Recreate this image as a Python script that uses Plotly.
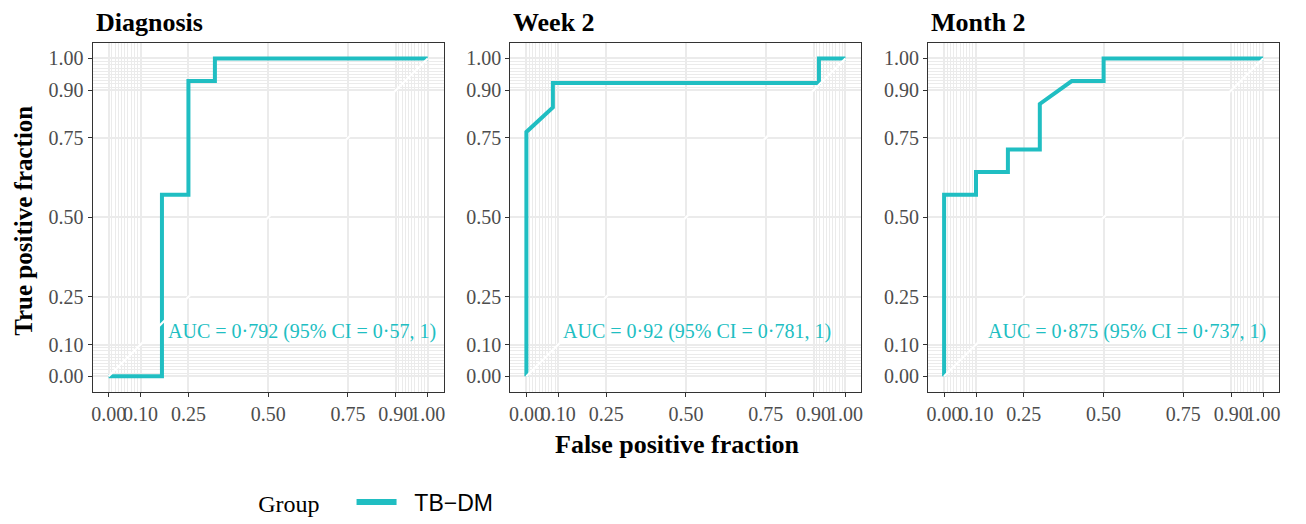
import plotly.graph_objects as go

# ---------------- data ----------------
panels = ["Diagnosis", "Week 2", "Month 2"]

fpr_diagnosis = [0.0, 0.167, 0.167, 0.25, 0.25, 0.333, 0.333, 1.0]
tpr_diagnosis = [0.0, 0.0, 0.571, 0.571, 0.929, 0.929, 1.0, 1.0]

fpr_week2 = [0.0, 0.0, 0.083, 0.083, 0.917, 0.917, 1.0]
tpr_week2 = [0.0, 0.769, 0.846, 0.923, 0.923, 1.0, 1.0]

fpr_month2 = [0.0, 0.0, 0.1, 0.1, 0.2, 0.2, 0.3, 0.3, 0.4, 0.5, 0.5, 1.0]
tpr_month2 = [0.0, 0.571, 0.571, 0.643, 0.643, 0.714, 0.714, 0.857, 0.929, 0.929, 1.0, 1.0]

auc_labels = [
    "AUC = 0·792 (95% CI = 0·57, 1)",
    "AUC = 0·92 (95% CI = 0·781, 1)",
    "AUC = 0·875 (95% CI = 0·737, 1)",
]

legend_title = "Group"
group_name = "TB\u2212DM"
major_ticks = [0, 0.1, 0.25, 0.5, 0.75, 0.9, 1]
major_labels = ["0.00", "0.10", "0.25", "0.50", "0.75", "0.90", "1.00"]
minor_ticks = [0.01, 0.02, 0.03, 0.04, 0.05, 0.06, 0.07, 0.08, 0.09,
               0.91, 0.92, 0.93, 0.94, 0.95, 0.96, 0.97, 0.98, 0.99]
diag_ref = [0, 1]

# ---------------- layout constants ----------------
W, H = 1306, 524
COLOR = "#20BEC2"
SERIF = "Liberation Serif"
SANS = "Liberation Sans"
x_px = [(91, 443), (510, 862), (929, 1281)]
y_px = (43, 396)
auc_pos = [(0.607, 0.14), (0.534, 0.14), (0.573, 0.14)]
NB = "\u00a0"

series = [(fpr_diagnosis, tpr_diagnosis), (fpr_week2, tpr_week2), (fpr_month2, tpr_month2)]

fig = go.Figure()
ydom = [1 - y_px[1] / H, 1 - y_px[0] / H]

for i, (fx, ty) in enumerate(series):
    n = "" if i == 0 else str(i + 1)
    xa, ya = "x" + n, "y" + n
    fig.add_trace(go.Scatter(
        x=fx, y=ty, mode="lines", xaxis=xa, yaxis=ya,
        line=dict(color=COLOR, width=4), name=group_name,
        showlegend=False, hoverinfo="skip"))
    fig.add_trace(go.Scatter(
        x=diag_ref, y=diag_ref, mode="lines", xaxis=xa, yaxis=ya,
        line=dict(color="white", width=2.2), showlegend=False, hoverinfo="skip"))

    axis_common = dict(
        range=[-0.05, 1.05], tickmode="array", tickvals=major_ticks, ticktext=major_labels,
        tickangle=0,
        showgrid=True, gridcolor="#EBEBEB", gridwidth=2, zeroline=False,
        showline=True, linecolor="#333333", linewidth=1.4, mirror=True,
        ticks="outside", ticklen=4, tickwidth=1.3, tickcolor="#333333",
        tickfont=dict(family=SERIF, size=20, color="#4D4D4D"),
        minor=dict(tickvals=minor_ticks, showgrid=True, gridcolor="#EBEBEB", gridwidth=1, ticks=""),
        fixedrange=True,
    )
    fig.layout["xaxis" + n] = dict(axis_common, domain=[x_px[i][0] / W, x_px[i][1] / W],
                                   anchor=ya)
    fig.layout["yaxis" + n] = dict(axis_common, domain=ydom, anchor=xa)

    fig.add_annotation(
        text="<b>" + panels[i] + "</b>", xref="paper", yref="paper",
        x=(x_px[i][0] + 1) / W, y=1 - 23 / H, xanchor="left", yanchor="middle",
        showarrow=False, font=dict(family=SERIF, size=26, color="black"))
    fig.add_annotation(
        text=auc_labels[i], xref=xa, yref=ya, x=auc_pos[i][0], y=auc_pos[i][1],
        xanchor="center", yanchor="middle", showarrow=False,
        font=dict(family=SERIF, size=20, color=COLOR))

# legend-only entry (thicker key, like the reference)
fig.add_trace(go.Scatter(
    x=[None], y=[None], mode="lines", line=dict(color=COLOR, width=6),
    name=NB * 2 + group_name, showlegend=True, hoverinfo="skip"))

fig.add_annotation(
    text="<b>True positive fraction</b>", xref="paper", yref="paper",
    x=22 / W, y=1 - 223 / H, textangle=-90, showarrow=False,
    xanchor="center", yanchor="middle", font=dict(family=SERIF, size=25, color="black"))
fig.add_annotation(
    text="<b>False positive fraction</b>", xref="paper", yref="paper",
    x=678 / W, y=1 - 449 / H, showarrow=False,
    xanchor="center", yanchor="middle", font=dict(family=SERIF, size=26, color="black"))

fig.update_layout(
    width=W, height=H, margin=dict(l=0, r=0, t=0, b=0),
    paper_bgcolor="white", plot_bgcolor="white",
    showlegend=True,
    legend=dict(
        orientation="h", x=255 / W, y=1 - 507 / H, xanchor="left", yanchor="middle",
        title=dict(text=legend_title + NB * 4, side="left",
                   font=dict(family=SERIF, size=24, color="black")),
        font=dict(family=SANS, size=23, color="black"),
        bgcolor="rgba(0,0,0,0)", itemwidth=40,
    ),
)

fig.write_html("out.html")
